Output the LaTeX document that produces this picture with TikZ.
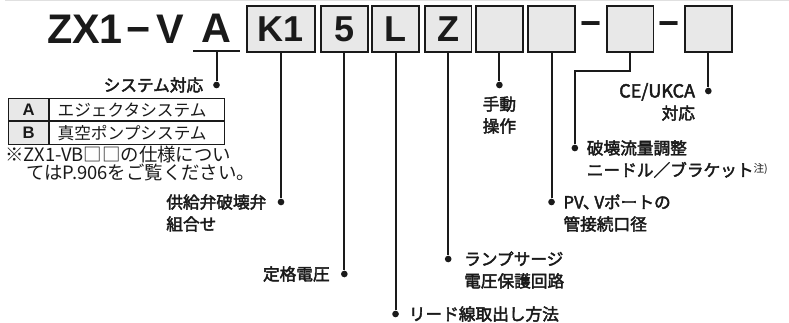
\documentclass[tikz,border=0pt]{standalone}
\usepackage{fontspec}
\setmainfont{Noto Sans CJK JP}
\newfontfamily\mdf[FakeBold=2.5]{Noto Sans CJK JP}
\newfontfamily\hv{Liberation Sans}
\usepackage{tikz}
\usetikzlibrary{positioning,calc}
\definecolor{boxgray}{HTML}{E8E8E8}
\definecolor{ink}{HTML}{1A1A1A}

\begin{document}
\begin{tikzpicture}[x=0.75pt,y=-0.75pt,font=\mdf\fontsize{12.5}{16.5}\selectfont,line width=1.5pt,ink]
  \tikzstyle{b}=[draw,line width=1.4pt,fill=boxgray,minimum width=35pt,minimum height=34.5pt,inner sep=0pt,outer sep=0pt,font=\hv\fontsize{27}{27}\selectfont\bfseries]
  \tikzstyle{tt}=[inner sep=0pt,font=\hv\fontsize{31}{31}\selectfont\bfseries]
  \tikzstyle{dt}=[circle,fill,inner sep=0pt,minimum size=5pt]
  \tikzstyle{lb}=[inner sep=0pt,align=left]
  \tikzstyle{cell}=[draw,line width=0.8pt,inner sep=0pt,minimum height=16.75pt,anchor=north west]
  \useasboundingbox (0,0) rectangle (789,323);
  \draw[line width=0.75pt,black!12] (5,0.5) -- (789,0.5);
  % model code
  \node[tt,anchor=base west] (t) at (46,43.5) {ZX1\kern3pt−\kern4.5ptV};
  \node[tt,minimum width=33.75pt,anchor=south,text depth=6pt] (a) at (216.5,51.5) {A};
  \draw (a.south west) -- (a.south east);
  \node[b,minimum width=51pt,anchor=north west] (k) at (247,6) {K1};
  \node[b,right=4.5pt of k] (v) {5};
  \node[b,right=3.4pt of v] (l) {L};
  \node[b,right=4.5pt of l] (z) {Z};
  \node[b,right=3.4pt of z] (m) {};
  \node[b,right=4.1pt of m] (p) {};
  \node[b,right=24pt of p] (n) {};
  \node[b,right=23.6pt of n] (c) {};
  \node[b,draw=none,fill=none,minimum width=0pt] (h1) at ($(p.east)!0.5!(n.west)$) {−};
  \node[b,draw=none,fill=none,minimum width=0pt] (h2) at ($(n.east)!0.5!(c.west)$) {−};
  % dots
  \node[dt] (da) at (a.south |- 0,85) {};
  \node[dt] (dk) at (k.south |- 0,202) {};
  \node[dt] (dv) at (v.south |- 0,274) {};
  \node[dt] (dl) at (l.south |- 0,314) {};
  \node[dt] (dz) at (z.south |- 0,259) {};
  \node[dt] (dm) at (m.south |- 0,85) {};
  \node[dt] (dp) at (p.south |- 0,202) {};
  \node[dt] (dn) at (p.east |- 0,148) {};
  \node[dt] (dc) at (c.south |- 0,91) {};
  \coordinate (kn) at (n.south |- 0,71);
  \draw (a.south) -- (da);
  \draw (k.south) -- (dk);
  \draw (v.south) -- (dv);
  \draw (l.south) -- (dl);
  \draw (z.south) -- (dz);
  \draw (m.south) -- (dm);
  \draw (p.south) -- (dp);
  \draw (n.south) -- (kn) -| (dn);
  \draw (c.south) -- (dc);
  % labels
  \node[lb,left=6pt of da] (la) {システム対応};
  \node[lb,left=7pt of dk,yshift=-8.25pt] (lk) {供給弁破壊弁\\組合せ};
  \node[lb,left=7pt of dv] (lv) {定格電圧};
  \node[lb,right=6pt of dl] (ll) {リード線取出し方法};
  \node[lb,right=8pt of dz,yshift=-8.25pt] (lz) {ランプサージ\\電圧保護回路};
  \node[lb,align=center,below=4.5pt of dm] (lm) {手動\\操作};
  \node[lb,right=5pt of dp,yshift=-8.25pt] (lp) {PV\kern-0.05em、\kern-0.3em Vポートの\\管接続口径};
  \node[lb,right=5pt of dn,yshift=-8.25pt] (ln) {破壊流量調整\\ニードル／ブラケット\raisebox{0.45ex}{\rmfamily\fontsize{8}{8}\selectfont 注)}};
  \node[lb,align=right,left=6pt of dc,yshift=-8.25pt] (lc) {\fontsize{13.5}{16.5}\selectfont CE/UKCA\\対応};
  % table
  \node[cell,fill=boxgray,minimum width=30pt,font=\hv\fontsize{12.5}{12.5}\selectfont\bfseries] (ca) at (8,98) {A};
  \node[cell,text width=119pt,inner xsep=6pt,align=left,font=\rmfamily\fontsize{12.5}{12.5}\selectfont,anchor=north west] (ea) at (ca.north east) {エジェクタシステム};
  \node[cell,fill=boxgray,minimum width=30pt,font=\hv\fontsize{12.5}{12.5}\selectfont\bfseries] (cb) at (ca.south west) {B};
  \node[cell,text width=119pt,inner xsep=6pt,align=left,font=\rmfamily\fontsize{12.5}{12.5}\selectfont,anchor=north west] (eb) at (cb.north east) {真空ポンプシステム};
  \node[lb,anchor=north west,font=\rmfamily\fontsize{13.8}{12.75}\selectfont] (nt) at (4,145) {※ZX1-VB□□の仕様につい\\\hspace*{16pt}てはP.906をご覧ください。};
\end{tikzpicture}
\end{document}
